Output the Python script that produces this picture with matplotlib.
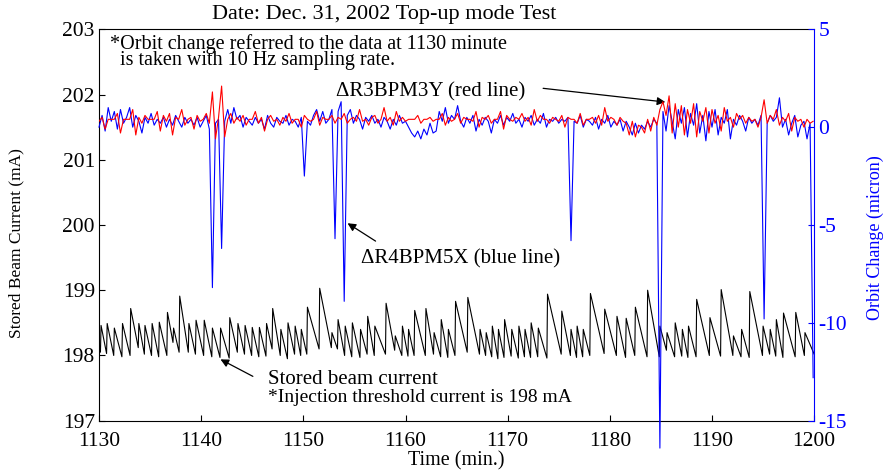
import numpy as np
import matplotlib
matplotlib.use("Agg")
import matplotlib.pyplot as plt

plt.rcParams["font.family"] = ["Liberation Serif", "DejaVu Serif"]
plt.rcParams["axes.unicode_minus"] = False

# ---- stored beam current: injection times, peak after injection, low just before injection ----
inj_t = [1130.2, 1130.8, 1131.5, 1132.3, 1133.1, 1133.9, 1134.5, 1135.2, 1135.9, 1136.7,
         1137.3, 1137.9, 1138.8, 1139.5, 1140.3, 1141.1, 1141.9, 1142.8, 1143.6, 1144.3,
         1145.0, 1145.7, 1146.4, 1147.0, 1147.8, 1148.5, 1149.2, 1149.8, 1150.4, 1151.6,
         1152.8, 1153.4, 1154.1, 1154.8, 1155.6, 1156.3, 1157.0, 1158.1, 1159.0, 1159.7,
         1160.3, 1160.9, 1162.0, 1162.8, 1163.5, 1164.2, 1164.9, 1166.1, 1167.3, 1167.9,
         1168.5, 1169.1, 1169.7, 1170.4, 1171.1, 1171.7, 1172.3, 1173.0, 1173.9, 1175.3,
         1176.2, 1176.8, 1177.4, 1178.1, 1179.5, 1180.7, 1181.6, 1182.5, 1183.7, 1184.9,
         1185.6, 1186.4, 1187.1, 1187.7, 1188.5, 1189.8, 1190.9, 1192.1, 1192.9, 1193.7,
         1195.0, 1195.7, 1196.3, 1197.0, 1198.2, 1199.1]
inj_peak = [198.46, 198.49, 198.42, 198.49, 198.72, 198.49, 198.46, 198.49, 198.51, 198.66,
            198.42, 198.91, 198.49, 198.54, 198.54, 198.42, 198.42, 198.58, 198.49, 198.46,
            198.43, 198.43, 198.49, 198.72, 198.40, 198.50, 198.45, 198.40, 198.74, 199.03,
            198.35, 198.55, 198.45, 198.50, 198.40, 198.60, 198.45, 198.80, 198.30, 198.45,
            198.40, 198.69, 198.72, 198.35, 198.55, 198.40, 198.83, 198.89, 198.40, 198.35,
            198.45, 198.40, 198.55, 198.40, 198.45, 198.40, 198.50, 198.42, 198.94, 198.68,
            198.40, 198.45, 198.40, 198.95, 198.71, 198.60, 198.57, 198.74, 199.00, 198.45,
            198.35, 198.50, 198.40, 198.45, 198.86, 198.58, 199.01, 198.30, 198.40, 198.98,
            198.45, 198.40, 198.55, 198.65, 198.66, 198.35]
inj_low = [198.05, 198.03, 198.00, 197.98, 198.00, 198.12, 198.02, 198.00, 197.98, 198.00,
           198.20, 198.05, 198.05, 198.02, 198.00, 197.98, 197.97, 197.96, 198.05, 198.02,
           198.00, 197.98, 197.99, 198.10, 198.00, 197.95, 198.02, 198.00, 198.02, 198.10,
           198.12, 198.10, 198.00, 197.98, 197.97, 198.02, 198.00, 198.02, 198.08, 198.00,
           197.99, 198.00, 198.00, 198.02, 197.98, 197.97, 198.00, 198.05, 198.02, 198.00,
           197.98, 197.95, 197.97, 197.99, 197.96, 197.98, 197.97, 197.98, 197.96, 198.02,
           198.00, 197.97, 197.98, 198.00, 198.03, 198.00, 197.97, 198.00, 197.98, 197.98,
           198.08, 197.98, 197.99, 197.97, 197.98, 198.00, 197.99, 198.00, 197.98, 197.97,
           198.00, 198.02, 197.99, 197.97, 197.98, 198.00]
cur_start = (1130.0, 198.20)
cur_end = (1200.0, 198.02)

# ---- orbit change (micron), sampled every 0.3 min from 1130.0 ----
orbit_t0 = 1130.0
orbit_dt = 0.3
red_y = [0.3, 0.5, -0.1, 0.4, 0.4, 0.4, 0.7, -0.3, 0.4, 0.4,
         0.4, 0.9, -0.4, 0.5, 0.2, 0.6, 0.4, 0.4, 0.4, 0.8,
         -0.2, 0.6, 0.3, 0.7, -0.4, 0.5, 0.4, 0.9, 0.1, 0.4,
         0.5, -0.1, 0.6, 0.3, 0.4, 0.7, 0.2, 1.8, -0.6, 0.5,
         2.1, -0.5, 0.4, 0.7, 0.2, 0.5, 0.3, 0.6, 0.1, 0.4,
         0.4, 0.8, 0.2, 0.5, -0.2, 0.4, 0.6, 0.3, 0.4, 0.1,
         0.5, 0.3, 0.7, 0.2, 0.4, 0.4, 0.0, 0.6, 0.4, 0.3,
         0.4, 0.8, 0.1, 0.5, 0.4, 0.4, 0.6, 0.2, 0.5, 0.4,
         0.7, 0.2, 0.4, 0.5, 0.3, 0.9, 0.3, 0.4, 0.1, 0.5,
         0.6, 0.2, 0.4, 1.0, 0.3, 0.5, 0.1, 0.8, 0.3, 0.5,
         0.3, 0.4, 0.4, 0.4, 0.6, 0.2, 0.4, 0.4, 0.5, 0.3,
         0.4, 0.4, 0.7, 0.1, 0.5, 0.3, 0.4, 0.7, 0.2, 0.5,
         0.4, 0.4, 0.3, 0.8, 0.0, 0.5, 0.4, 0.6, 0.2, 0.4,
         0.4, 0.8, -0.1, 0.6, 0.4, 0.3, 0.5, 0.4, 0.7, 0.3,
         0.5, 0.1, 0.9, 0.3, 0.6, 0.4, 0.4, 0.2, 0.5, 0.4,
         0.3, 0.6, 0.0, 0.5, 0.4, 0.4, 0.2, 0.7, 0.1, 0.4,
         0.4, 0.5, 0.2, 0.6, 0.1, 1.0, 0.3, 0.5, 0.4, 0.1,
         0.5, 0.3, 0.2, -0.4, 0.3, -0.5, 0.1, 0.0, -0.3, 0.4,
         -0.2, 0.5, 0.1, 0.9, 1.3, 0.6, 1.6, -0.3, 1.2, 0.0,
         1.1, -0.4, 0.9, 0.2, 1.2, -0.5, 0.8, 0.3, 1.0, -0.3,
         0.9, 0.2, 0.6, -0.2, 1.0, 0.3, 0.5, 0.0, 0.7, 0.4,
         0.6, 0.2, 0.5, 0.3, 0.4, 0.0, 0.5, 1.4, 0.2, 0.6,
         0.4, 0.9, 0.1, 0.5, 0.3, 0.7, -0.2, 0.5, 0.3, 0.4,
         0.0, 0.4, 0.2, 0.3]
blue_y = [0.0, 0.6, -0.2, 1.0, 0.3, 0.8, -0.1, 0.9, 0.2, 0.5,
          1.0, 0.0, 0.6, 0.3, -0.3, 0.5, 0.2, 0.7, 0.1, 0.4,
          0.2, 0.5, 0.0, 0.4, 0.1, 0.6, 0.3, 0.0, 0.5, 0.2,
          0.4, 0.1, 0.5, 0.0, 0.3, 0.6, -0.1, -8.2, 0.2, 0.4,
          -6.2, 0.3, 0.9, 0.2, 1.0, 0.4, 0.6, 0.0, 0.5, 0.3,
          0.1, 0.5, 0.2, 0.4, -0.1, 0.6, 0.2, 0.0, 0.5, 0.3,
          0.2, 0.6, 0.1, 0.4, 0.3, 0.0, 0.5, -2.5, 0.3, 0.1,
          0.6, 0.9, 0.3, 0.8, 0.2, 0.4, 0.9, -5.7, 0.8, 1.3,
          -8.9, 0.6, 0.9, 0.2, 0.6, 0.4, -0.1, 0.5, 0.3, 0.6,
          0.2, 0.4, 0.0, 0.5, 0.3, -0.1, 0.4, 0.1, 0.6, 0.2,
          0.3, 0.0, -0.3, -0.5, -0.2, -0.6, -0.1, -0.4, 0.2, -0.3,
          -0.2, 0.8, 0.3, 1.0, 0.2, 0.6, 0.4, 1.1, 0.3, 0.0,
          0.5, 0.2, 0.6, -0.2, 0.4, 0.1, 0.5, 0.3, -0.3, 0.4,
          0.2, 0.6, 0.1, 0.5, 0.3, 0.7, 0.2, 0.4, 0.0, 0.5,
          0.3, 0.6, 0.1, 0.4, 0.2, 0.7, 0.0, 0.4, 0.3, 0.5,
          0.2, 0.4, 0.3, 0.5, -5.8, 0.3, 0.2, 0.6, 0.0, 0.4,
          0.3, 0.1, 0.5, -0.1, 0.4, 0.2, 0.6, 0.0, 0.3, 0.1,
          0.4, -0.2, 0.3, 0.0, -0.4, 0.2, -0.3, 0.1, -0.1, 0.3,
          0.0, 0.4, 0.2, -16.4, 0.8, -0.2, 1.1, 0.3, -0.6, 0.9,
          0.2, 1.0, -0.5, 0.7, 0.1, 1.2, -0.3, 0.6, -0.7, 0.8,
          0.0, 0.9, -0.4, 0.5, 0.2, 0.9, -0.6, 0.4, 0.1, 0.6,
          0.3, -0.2, 0.5, 0.2, 0.4, 0.1, 0.6, -9.8, 0.2, 0.6,
          0.3, 0.5, 1.5, 0.0, 0.4, -0.4, 0.2, 0.6, -0.5, 0.1,
          0.3, -0.6, 0.2, -12.8]

x_ticks = [1130, 1140, 1150, 1160, 1170, 1180, 1190, 1200]
left_ticks = [197, 198, 199, 200, 201, 202, 203]
right_ticks = [-15, -10, -5, 0, 5]

# build sawtooth vertices (low just before each injection, then the peak)
cur_x = [cur_start[0]]
cur_y = [cur_start[1]]
for t, pk, lo in zip(inj_t, inj_peak, inj_low):
    cur_x += [t - 0.06, t]
    cur_y += [lo, pk]
cur_x.append(cur_end[0])
cur_y.append(cur_end[1])

orbit_t = orbit_t0 + orbit_dt * np.arange(len(red_y))

fig = plt.figure(figsize=(8.84, 4.71), dpi=100)
ax = fig.add_axes([0.112, 0.1068, 0.809, 0.831])
ax2 = ax.twinx()

ax.plot(cur_x, cur_y, color="black", lw=0.8)
ax2.plot(orbit_t, blue_y, color="blue", lw=0.8, clip_on=False)
ax2.plot(orbit_t, red_y, color="red", lw=0.8)

ax.set_xlim(1130, 1200)
ax.set_ylim(197, 203)
ax2.set_ylim(-15, 5)
ax.set_xticks(x_ticks)
ax.set_yticks(left_ticks)
ax2.set_yticks(right_ticks)

ax.tick_params(direction="in", length=4, labelsize=15.5, top=False, right=False, pad=3)
ax.tick_params(axis="x", pad=8)
ax2.tick_params(direction="in", length=4, labelsize=15.5, colors="blue", pad=3)
ax.spines["right"].set_visible(False)
for s in ["top", "left", "bottom"]:
    ax2.spines[s].set_visible(False)
ax2.spines["right"].set_color("blue")
ax.set_zorder(ax2.get_zorder() - 1)

ax.set_xlabel("Time (min.)", fontsize=14.5, labelpad=0)
ax.set_ylabel("Stored Beam Current (mA)", fontsize=12.5)
ax.yaxis.set_label_coords(-0.104, 0.455)
ax2.set_ylabel("Orbit Change (micron)", fontsize=13, color="blue", rotation=90)
ax2.yaxis.set_label_coords(1.074, 0.467)

fig.text(0.435, 0.97, "Date: Dec. 31, 2002 Top-up mode Test", fontsize=16,
         ha="center", va="center")

ax.text(1131.1, 202.93, "*Orbit change referred to the data at 1130 minute\n  is taken with 10 Hz sampling rate.",
        fontsize=14.5, ha="left", va="top", linespacing=0.82)
ax.text(1153.2, 202.04, "\u0394R3BPM3Y (red line)", fontsize=15, ha="left", va="center")
ax.annotate("", xy=(1185.7, 201.88), xytext=(1173.2, 202.10),
            arrowprops=dict(arrowstyle="-|>", color="black", lw=0.9, mutation_scale=12))
ax.text(1155.6, 199.48, "\u0394R4BPM5X (blue line)", fontsize=15, ha="left", va="center")
ax.annotate("", xy=(1154.1, 200.05), xytext=(1157.3, 199.73),
            arrowprops=dict(arrowstyle="-|>", color="black", lw=0.9, mutation_scale=12))
ax.text(1146.5, 197.63, "Stored beam current", fontsize=15, ha="left", va="center")
ax.text(1146.5, 197.36, "*Injection threshold current is 198 mA", fontsize=14,
        ha="left", va="center")
ax.annotate("", xy=(1141.65, 197.96), xytext=(1145.3, 197.66),
            arrowprops=dict(arrowstyle="-|>", color="black", lw=0.9, mutation_scale=12))

fig.savefig("out.png", dpi=100)
